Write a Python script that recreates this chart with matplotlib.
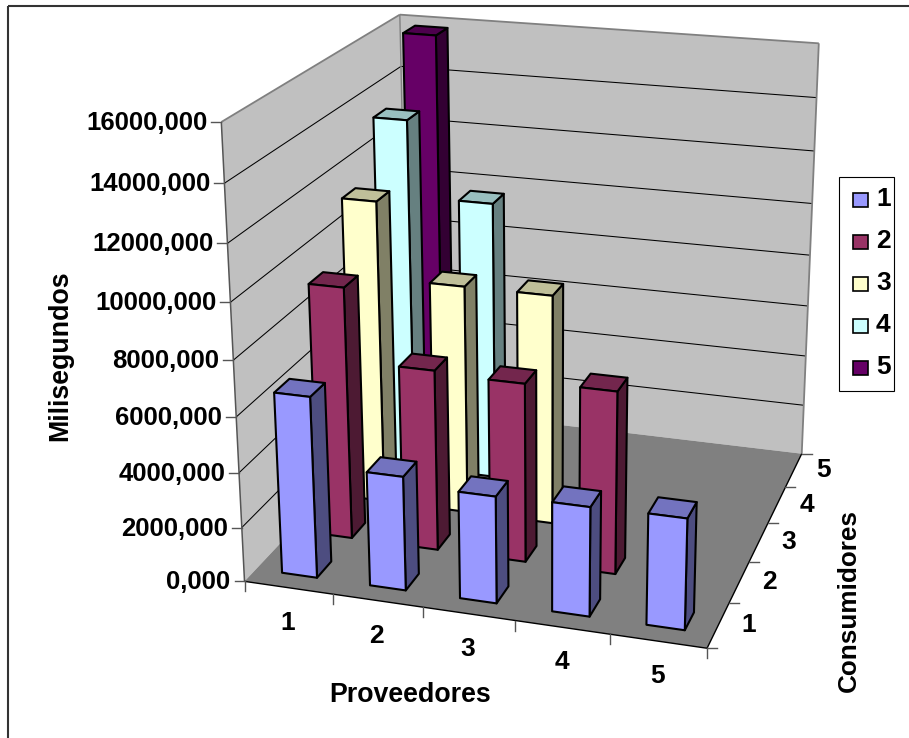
import numpy as np
import matplotlib
matplotlib.use("Agg")
import matplotlib.pyplot as plt
from matplotlib.patches import Polygon, Rectangle

# ---- data -------------------------------------------------------------
proveedores = ["1", "2", "3", "4", "5"]
consumidores = ["1", "2", "3", "4", "5"]
serie_1 = [6600, 4150, 3870, 3930, 3970]
serie_2 = [9320, 6680, 6580, 6680]
serie_3 = [11400, 8600, 8600]
serie_4 = [13480, 10650]
serie_5 = [15850]
z_ticks = [0, 2000, 4000, 6000, 8000, 10000, 12000, 14000, 16000]
z_max = 16000
colores = ["#9999FF", "#993366", "#FFFFCC", "#CCFFFF", "#660066"]
series = [serie_1, serie_2, serie_3, serie_4, serie_5]

plt.rcParams["font.family"] = ["Liberation Sans", "DejaVu Sans"]
plt.rcParams["font.weight"] = "bold"

W, H = 909, 738
fig = plt.figure(figsize=(W / 100, H / 100), dpi=100, facecolor="white")
ax = fig.add_axes([0, 0, 1, 1])
ax.set_xlim(0, W)
ax.set_ylim(H, 0)
ax.axis("off")

# ---- calibration of the 3D view (unit cube -> canvas) -----------------
calib = [
    ((0, 0, 0), (244, 581)), ((.2, 0, 0), (332, 595)), ((.4, 0, 0), (422, 607)),
    ((.6, 0, 0), (516, 621)), ((.8, 0, 0), (610, 635)), ((1, 0, 0), (708, 648)),
    ((1, .2, 0), (728, 602)), ((1, .4, 0), (750, 562)), ((1, .6, 0), (768, 522)),
    ((1, .8, 0), (787, 487)), ((1, 1, 0), (802, 454)),
    ((0, 0, 1), (222, 122)), ((0, 1, 1), (399, 14)), ((1, 1, 1), (820, 42)),
    ((0, 0, .875), (225, 184)), ((0, 0, .75), (228, 244)), ((0, 0, .375), (236, 417)),
    ((0, 0, .25), (238, 472)), ((0, 0, .125), (242, 527)),
    ((1, 1, .875), (816, 98)), ((1, 1, .75), (814, 151)), ((1, 1, .625), (812, 204)),
    ((1, 1, .5), (810, 255)), ((1, 1, .375), (807, 307)), ((1, 1, .25), (805, 357)),
    ((1, 1, .125), (803, 405)), ((0, 1, 0), (410, 407)),
]
A, b = [], []
for (X, Y, Z), (u, v) in calib:
    A.append([X, Y, Z, 1, 0, 0, 0, 0, -u * X, -u * Y, -u * Z]); b.append(u)
    A.append([0, 0, 0, 0, X, Y, Z, 1, -v * X, -v * Y, -v * Z]); b.append(v)
p = np.linalg.lstsq(np.array(A, float), np.array(b, float), rcond=None)[0]
P = np.append(p, 1).reshape(3, 4)


def proj(X, Y, Z):
    h = P @ np.array([X, Y, Z, 1.0])
    return h[0] / h[2], h[1] / h[2]


def poly(points, fc, ec="none", lw=0.0, z=1):
    ax.add_patch(Polygon([proj(*q) for q in points], closed=True, facecolor=fc,
                         edgecolor=ec, linewidth=lw, joinstyle="round", zorder=z))


def line(a, b, c="black", lw=0.75, z=2):
    pa, pb = proj(*a), proj(*b)
    ax.plot([pa[0], pb[0]], [pa[1], pb[1]], color=c, lw=lw, zorder=z, solid_capstyle="butt")


def shade(col, f):
    rgb = np.array(matplotlib.colors.to_rgb(col))
    return tuple(rgb * f)


# chart border
ax.add_patch(Rectangle((8, 6), W, H, fill=False, ec="#333333", lw=1.5, zorder=0))

# walls and floor
poly([(0, 0, 0), (0, 1, 0), (0, 1, 1), (0, 0, 1)], "#C0C0C0")
poly([(0, 1, 0), (1, 1, 0), (1, 1, 1), (0, 1, 1)], "#C0C0C0")
poly([(0, 0, 0), (1, 0, 0), (1, 1, 0), (0, 1, 0)], "#808080")

# gridlines
for t in z_ticks[1:-1]:
    z = t / z_max
    line((0, 0, z), (0, 1, z))
    line((0, 1, z), (1, 1, z))

# wall frame
line((0, 0, 1), (0, 1, 1), "#808080", 1.3)
line((0, 1, 1), (1, 1, 1), "#808080", 1.3)
line((1, 1, 1), (1, 1, 0), "#808080", 1.3)
line((0, 1, 0), (0, 1, 1), "#808080", 1.0)
line((0, 0, 0), (0, 0, 1), "#555555", 1.1)
line((0, 0, 0), (1, 0, 0), "black", 1.0)
line((1, 0, 0), (1, 1, 0), "black", 1.0)

# ticks and labels
TICK = 10
for t in z_ticks:
    u, v = proj(0, 0, t / z_max)
    ax.plot([u - TICK, u], [v, v], color="#555555", lw=1.0, zorder=2)
    ax.text(u - 14, v + 1, f"{t},000", ha="right", va="center", fontsize=18.5, fontweight="bold")
for i in range(len(proveedores) + 1):
    u, v = proj(i / 5, 0, 0)
    ax.plot([u, u], [v, v + TICK], color="#555555", lw=1.0, zorder=2)
for i, s in enumerate(proveedores):
    u, v = proj((i + .5) / 5, 0, 0)
    ax.text(u - 1, v + 35, s, ha="center", va="center", fontsize=19, fontweight="bold")
for i in range(len(consumidores) + 1):
    u, v = proj(1, i / 5, 0)
    ax.plot([u, u + TICK], [v, v], color="#555555", lw=1.0, zorder=2)
for i, s in enumerate(consumidores):
    u, v = proj(1, (i + .5) / 5, 0)
    ax.text(u + 30, v, s, ha="center", va="center", fontsize=19, fontweight="bold")

# bars, back to front
EL = 1.5
order = 10
for j in range(len(series) - 1, -1, -1):
    for i, val in enumerate(series[j]):
        x0, x1 = (i + .3) / 5, (i + .7) / 5
        y0, y1 = (j + .3) / 5, (j + .7) / 5
        h = val / z_max
        col = colores[j]
        poly([(x1, y0, 0), (x1, y1, 0), (x1, y1, h), (x1, y0, h)], shade(col, .5), "black", EL, order)
        poly([(x0, y0, h), (x1, y0, h), (x1, y1, h), (x0, y1, h)], shade(col, .75), "black", EL, order)
        poly([(x0, y0, 0), (x1, y0, 0), (x1, y0, h), (x0, y0, h)], col, "black", EL, order)
        order += 1

# axis titles
ax.text(410, 695, "Proveedores", ha="center", va="center", fontsize=19.3, fontweight="bold")
ax.text(60, 356, "Milisegundos", ha="center", va="center", rotation=90, fontsize=19.3, fontweight="bold")
ax.text(849, 601, "Consumidores", ha="center", va="center", rotation=90, fontsize=18.8, fontweight="bold")

# legend
ax.add_patch(Rectangle((839, 177), 55, 214, fc="white", ec="black", lw=0.8, zorder=50))
for j, s in enumerate(consumidores):
    yc = 199.5 + j * 42
    ax.add_patch(Rectangle((853, yc - 7), 15, 14, fc=colores[j], ec="black", lw=1.2, zorder=51))
    ax.text(876, yc - 1, s, ha="left", va="center", fontsize=19, fontweight="bold", zorder=51)

fig.savefig("out.png", dpi=100)
